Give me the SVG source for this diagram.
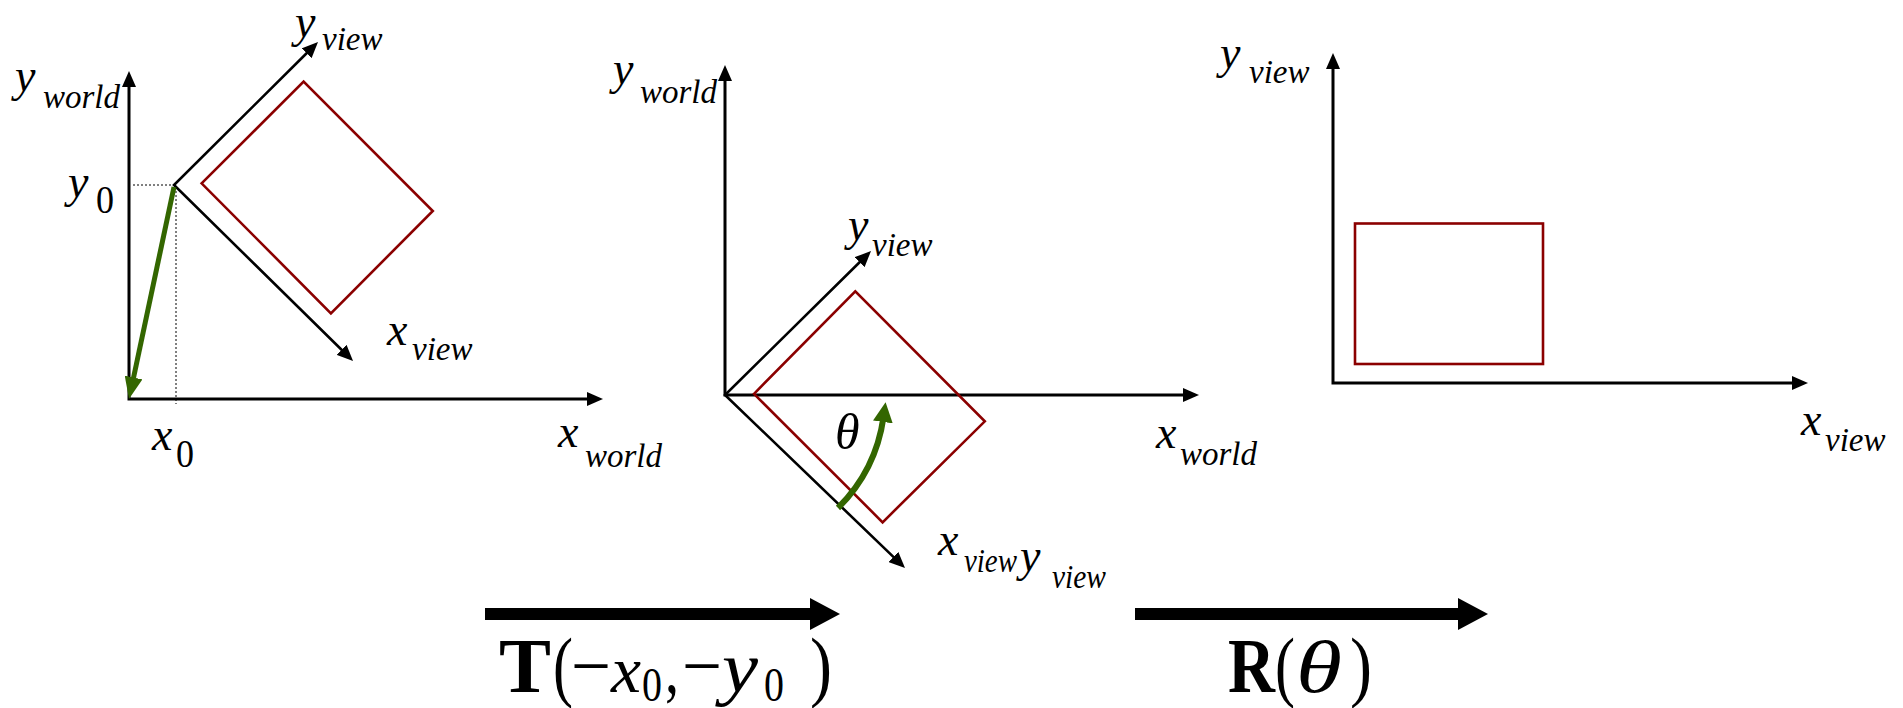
<svg xmlns="http://www.w3.org/2000/svg" width="1903" height="708" viewBox="0 0 1903 708">
<style>
  .ax{stroke:#000;stroke-width:3;fill:none;stroke-linejoin:miter}
  .vx{stroke:#000;stroke-width:2.6;fill:none}
  .obj{stroke:#8b0000;stroke-width:2.6;fill:none;stroke-linejoin:miter}
  .grn{stroke:#336600;fill:none}
  .dot{stroke:#000;stroke-width:1;stroke-dasharray:2 2;fill:none}
  .big{stroke:#000;stroke-width:12;fill:none}
  .m{font-style:italic;font-size:46px}
  .s{font-style:italic;font-size:33px}
  .d{font-style:normal;font-size:40px}
  .it{font-style:italic}
  .b{font-weight:bold}
</style>
<defs>
  <marker id="ah" markerUnits="userSpaceOnUse" markerWidth="16" markerHeight="14" refX="6" refY="7" orient="auto-start-reverse"><path d="M0,0 L16,7 L0,14 z" fill="#000"/></marker>
  <marker id="gh" markerUnits="userSpaceOnUse" markerWidth="22" markerHeight="18" refX="6" refY="9" orient="auto"><path d="M0,0 L22,9 L0,18 z" fill="#336600"/></marker>
  <marker id="gh2" markerUnits="userSpaceOnUse" markerWidth="20" markerHeight="20" refX="5" refY="10" orient="auto"><path d="M0,0 L20,10 L0,20 z" fill="#336600"/></marker>
  <marker id="bh" markerUnits="userSpaceOnUse" markerWidth="30" markerHeight="32" refX="5" refY="16" orient="auto"><path d="M0,0 L30,16 L0,32 z" fill="#000"/></marker>
</defs>

<g font-family="'Liberation Serif', Tinos, 'Times New Roman', serif" fill="#000">
<g id="panel1">
  <path class="dot" d="M133,185 H174"/>
  <path class="dot" d="M176,187 V404"/>
  <path class="ax" d="M129,81 V399 H593" marker-start="url(#ah)" marker-end="url(#ah)"/>
  <path class="vx" d="M310.9,49 L174,185 L345.9,354" marker-start="url(#ah)" marker-end="url(#ah)"/>
  <polygon class="obj" points="201.6,183.3 303.6,81.7 432.8,211 330.9,313.3"/>
  <text class="m" x="15" y="91">y</text><text class="s" x="43" y="108">world</text>
  <text class="m" x="68" y="197">y</text><text class="d" x="96" y="213" textLength="18" lengthAdjust="spacingAndGlyphs">0</text>
  <text class="m" x="152" y="450">x</text><text class="d" x="176" y="467" textLength="18" lengthAdjust="spacingAndGlyphs">0</text>
  <text class="m" x="558" y="447">x</text><text class="s" x="585" y="467">world</text>
  <text class="m" x="295" y="37">y</text><text class="s" x="322" y="50">view</text>
  <text class="m" x="387" y="345">x</text><text class="s" x="412" y="360">view</text>
</g>

<g id="panel2">
  <path class="ax" d="M725,75 V395 H1189" marker-start="url(#ah)" marker-end="url(#ah)"/>
  <path class="vx" d="M863.9,258 L725,395 L897.8,561.1" marker-start="url(#ah)" marker-end="url(#ah)"/>
  <polygon class="obj" points="754,393.8 855.3,291.3 984.8,421.3 882.6,522.3"/>
  <text class="m" x="613" y="84">y</text><text class="s" x="640" y="103">world</text>
  <text class="m" x="848" y="240">y</text><text class="s" x="872" y="256">view</text>
  <text class="m" x="1156" y="448">x</text><text class="s" x="1180" y="465">world</text>
  <text class="m" x="938" y="555">x</text><text class="s" x="964" y="572" textLength="53" lengthAdjust="spacingAndGlyphs">view</text>
  <text class="m" x="1020" y="571">y</text><text class="s" x="1052" y="588" textLength="54" lengthAdjust="spacingAndGlyphs">view</text>
  <text class="m" x="835" y="449" style="font-size:50px">θ</text>
</g>

<g id="panel3">
  <path class="ax" d="M1333,63 V383 H1798" marker-start="url(#ah)" marker-end="url(#ah)"/>
  <rect class="obj" x="1355" y="223.5" width="188" height="140.5"/>
  <text class="m" x="1220" y="68">y</text><text class="s" x="1249" y="83">view</text>
  <text class="m" x="1801" y="435">x</text><text class="s" x="1825" y="451">view</text>
</g>

<g id="connectors">
  <path class="grn" style="stroke-width:5" d="M174,187 L132.3,383.4" marker-end="url(#gh)"/>
  <path class="grn" style="stroke-width:6" d="M838,508 A160,160 0 0 0 883.5,417" marker-end="url(#gh2)"/>
  <path class="big" d="M485,614 H815" marker-end="url(#bh)"/>
  <path class="big" d="M1135,614 H1463" marker-end="url(#bh)"/>
</g>

<g id="label-translate">
  <text class="b" x="499" y="692" font-size="78" textLength="52" lengthAdjust="spacingAndGlyphs">T</text>
  <text x="553" y="692" font-size="78" textLength="20" lengthAdjust="spacingAndGlyphs">(</text>
  <text x="571" y="690" font-size="72" textLength="40" lengthAdjust="spacingAndGlyphs">−</text>
  <text class="it" x="611" y="692" font-size="66" textLength="30" lengthAdjust="spacingAndGlyphs">x</text>
  <text x="642" y="701" font-size="48" textLength="20" lengthAdjust="spacingAndGlyphs">0</text>
  <text x="665" y="692" font-size="72" textLength="14" lengthAdjust="spacingAndGlyphs">,</text>
  <text x="682" y="690" font-size="72" textLength="40" lengthAdjust="spacingAndGlyphs">−</text>
  <text class="it" x="722" y="692" font-size="72" textLength="36" lengthAdjust="spacingAndGlyphs">y</text>
  <text x="764" y="701" font-size="48" textLength="20" lengthAdjust="spacingAndGlyphs">0</text>
  <text x="810" y="692" font-size="78" textLength="22" lengthAdjust="spacingAndGlyphs">)</text>
</g>
<g id="label-rotate">
  <text class="b" x="1228" y="692" font-size="78" textLength="47" lengthAdjust="spacingAndGlyphs">R</text>
  <text x="1275" y="692" font-size="78" textLength="20" lengthAdjust="spacingAndGlyphs">(</text>
  <text class="it" x="1296" y="692" font-size="74" textLength="46" lengthAdjust="spacingAndGlyphs">θ</text>
  <text x="1350" y="692" font-size="78" textLength="22" lengthAdjust="spacingAndGlyphs">)</text>
</g>
</g>
</svg>
